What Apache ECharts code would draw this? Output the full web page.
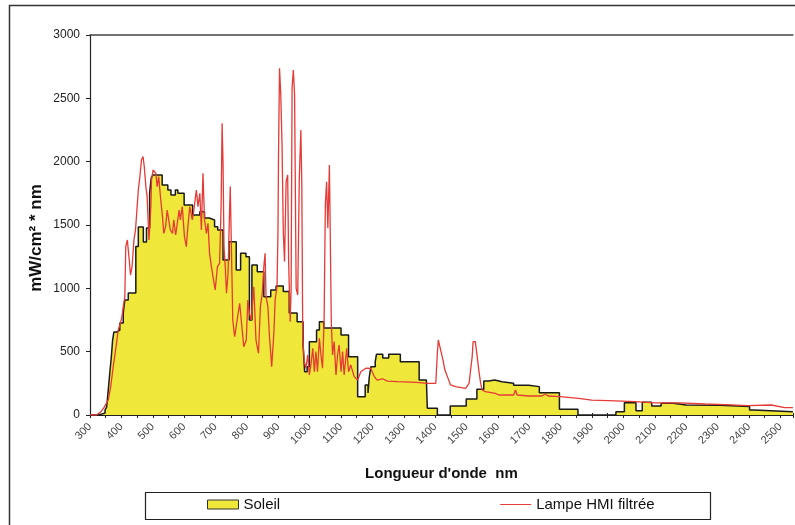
<!DOCTYPE html>
<html>
<head>
<meta charset="utf-8">
<script src="https://cdn.jsdelivr.net/npm/echarts@6/dist/echarts.min.js"></script>
<style>
  html, body { margin: 0; padding: 0; background: #fff; }
  #chart { width: 795px; height: 525px; }
</style>
</head>
<body>
<div id="chart"></div>
<script>
// Solar spectrum (binned, drawn as steps): band start wavelength (nm) and level (mW/cm² * nm)
const soleilNm = [300, 320, 335, 348, 353, 356, 359, 363, 368, 372, 376, 385, 395, 406, 411, 422, 446, 454, 470, 480,
  490, 495, 500, 530, 548, 558, 572, 580, 600, 627, 650, 665, 680, 697, 707, 724, 743, 766, 780, 797,
  808, 816, 833, 854, 876, 893, 916, 935, 960, 979, 984, 992, 999, 1022, 1031, 1045, 1100, 1124, 1153, 1177,
  1186, 1190, 1195, 1209, 1213, 1233, 1252, 1289, 1349, 1372, 1375, 1407, 1448, 1499, 1533, 1555, 1570, 1590, 1613, 1650,
  1698, 1732, 1796, 1855, 1976, 2003, 2040, 2060, 2090, 2120, 2159, 2200, 2307, 2402, 2416, 2540];
const soleilVal = [0, 5, 16, 40, 63, 140, 220, 330, 460, 590, 655, 670, 726, 805, 908, 963, 1330, 1485, 1366, 1476,
  1752, 1870, 1895, 1816, 1776, 1737, 1776, 1750, 1658, 1579, 1605, 1555, 1540, 1487, 1460, 1224, 1368, 1145, 1276, 1250,
  750, 1184, 1131, 934, 987, 1018, 975, 805, 737, 553, 342, 381, 579, 671, 737, 687, 632, 460, 145, 237,
  174, 300, 381, 421, 480, 450, 480, 421, 276, 263, 53, 0, 71, 126, 203, 268, 276, 263, 250, 234,
  224, 176, 45, 0, 26, 97, 34, 100, 71, 92, 79, 76, 68, 39, 26, 26];

// Filtered HMI lamp spectrum
const lampNm = [300, 321, 335, 345, 358, 366, 374, 383, 390, 401, 406, 411, 414, 419, 425, 429, 434, 440, 445, 454,
  459, 464, 469, 473, 478, 482, 488, 494, 496, 501, 510, 514, 519, 525, 531, 535, 541, 546, 552, 556,
  563, 567, 573, 577, 584, 588, 594, 601, 607, 612, 618, 626, 630, 639, 644, 650, 655, 660, 665, 671,
  676, 681, 687, 692, 699, 706, 713, 718, 721, 724, 727, 731, 735, 740, 744, 747, 750, 755, 761, 769,
  777, 782, 790, 798, 803, 808, 814, 822, 829, 837, 843, 849, 854, 858, 861, 867, 872, 879, 886, 890,
  896, 899, 901, 904, 908, 912, 916, 920, 925, 930, 933, 938, 941, 944, 948, 952, 957, 962, 967, 972,
  975, 978, 983, 988, 994, 999, 1004, 1010, 1015, 1020, 1025, 1031, 1036, 1041, 1046, 1050, 1054, 1058, 1063, 1066,
  1069, 1073, 1078, 1084, 1089, 1094, 1100, 1105, 1110, 1118, 1124, 1131, 1142, 1153, 1163, 1179, 1195, 1206, 1215, 1232,
  1248, 1280, 1340, 1375, 1402, 1407, 1410, 1415, 1420, 1425, 1431, 1439, 1449, 1465, 1497, 1508, 1513, 1518, 1521, 1528,
  1534, 1539, 1545, 1550, 1560, 1592, 1603, 1650, 1656, 1661, 1698, 1740, 1751, 1760, 1799, 1857, 1899, 1952, 2037, 2101,
  2180, 2260, 2323, 2397, 2471, 2514, 2540];
const lampVal = [0, 0, 26, 60, 118, 224, 382, 540, 671, 763, 855, 934, 1329, 1382, 1224, 1105, 1171, 1382, 1461, 1776,
  1882, 2013, 2040, 1960, 1803, 1724, 1382, 1645, 1855, 1934, 1908, 1803, 1882, 1711, 1566, 1434, 1487, 1618, 1618, 1461,
  1434, 1540, 1421, 1408, 1618, 1540, 1645, 1408, 1329, 1487, 1645, 1540, 1600, 1776, 1645, 1750, 1461, 1908, 1540, 1434,
  1513, 1276, 1171, 1092, 987, 1171, 1197, 1671, 2303, 1987, 1329, 1171, 961, 1118, 1540, 1803, 1408, 750, 618, 750,
  882, 750, 539, 592, 908, 803, 750, 1013, 592, 487, 855, 961, 1171, 1276, 934, 855, 618, 382, 645, 908,
  1013, 1434, 2105, 2737, 2526, 2132, 1447, 1211, 1842, 1895, 1211, 737, 1000, 2579, 2724, 2526, 1000, 947, 1868, 2250,
  1816, 605, 421, 369, 474, 316, 395, 526, 342, 500, 342, 605, 474, 369, 737, 1658, 1842, 1474, 1974, 1974,
  737, 474, 579, 316, 474, 553, 342, 500, 316, 526, 342, 395, 303, 276, 342, 369, 368, 303, 276, 286,
  268, 263, 258, 250, 250, 487, 592, 592, 487, 434, 355, 303, 237, 224, 211, 250, 355, 461, 579, 579,
  461, 355, 250, 197, 184, 171, 158, 158, 197, 158, 150, 150, 166, 150, 145, 132, 118, 113, 105, 95,
  95, 87, 82, 74, 79, 58, 58];

const yTicks = [0, 500, 1000, 1500, 2000, 2500, 3000];

const soleilData = soleilNm.map((x, i) => [x, soleilVal[i]]);
const lampData = lampNm.map((x, i) => [x, lampVal[i]]);

const FONT = '"Liberation Sans", Arial, sans-serif';
const chart = echarts.init(document.getElementById('chart'), null, { renderer: 'canvas' });

chart.setOption({
  animation: false,
  backgroundColor: '#ffffff',
  textStyle: { fontFamily: FONT },
  graphic: [
    // outer chart frame
    { type: 'rect', silent: true, z: -1,
      shape: { x: 9.5, y: 5.5, width: 820, height: 540 },
      style: { fill: 'none', stroke: '#333', lineWidth: 1.5 } },
    // legend box
    { type: 'rect', silent: true,
      shape: { x: 145.5, y: 492.5, width: 565, height: 27 },
      style: { fill: '#fff', stroke: '#222', lineWidth: 1.2 } },
    // vertical axis title
    { type: 'text', silent: true, x: 36, y: 238, rotation: Math.PI / 2,
      style: { text: 'mW/cm² * nm', font: 'bold 17px "Liberation Sans", Arial, sans-serif',
               fill: '#111', align: 'center', verticalAlign: 'middle' } }
  ],
  grid: { left: 90, right: 0, top: 35, bottom: 110, show: false },
  legend: {
    left: 207, top: 497, z: 10, padding: 0,
    itemWidth: 31, itemHeight: 9, itemGap: 220, symbolKeepAspect: true,
    textStyle: { fontFamily: FONT, fontSize: 15, color: '#111' },
    data: [
      { name: 'Soleil', icon: 'rect', itemStyle: { color: '#efe83a', borderColor: '#333', borderWidth: 1 } },
      { name: 'Lampe HMI filtrée', icon: 'path://M0,0 L32,0 L32,1 L0,1 Z', itemStyle: { color: '#e53a36' } }
    ]
  },
  xAxis: [
    {
      type: 'value', min: 300, max: 2540, interval: 50,
      name: "Longueur d'onde  nm", nameLocation: 'middle', nameGap: 51,
      nameTextStyle: { fontFamily: FONT, fontSize: 15, fontWeight: 'bold', color: '#111' },
      splitLine: { show: false },
      axisLine: { lineStyle: { color: '#222', width: 1.2 } },
      axisTick: { length: 3, lineStyle: { color: '#222' } },
      axisLabel: {
        rotate: 45, margin: 10, fontSize: 11, color: '#444', fontFamily: FONT,
        formatter: v => (v % 100 === 0 && v <= 2500) ? String(v) : ''
      }
    },
    {
      // plot-area top border
      type: 'value', position: 'top', min: 300, max: 2540,
      axisLine: { show: true, lineStyle: { color: '#444', width: 1.5 } },
      axisTick: { show: false }, axisLabel: { show: false }, splitLine: { show: false }
    },
    {
      // inner half of the crossing tick marks
      type: 'value', position: 'bottom', min: 300, max: 2540, interval: 50,
      axisLine: { show: false },
      axisTick: { show: true, inside: true, length: 2, lineStyle: { color: '#222' } },
      axisLabel: { show: false }, splitLine: { show: false }
    }
  ],
  yAxis: {
    type: 'value', min: 0, max: 3000, interval: 500,
    splitLine: { show: false },
    axisLine: { show: true, lineStyle: { color: '#222', width: 1.2 } },
    axisTick: { show: true, length: 4, lineStyle: { color: '#222' } },
    axisLabel: {
      margin: 10, fontSize: 12, color: '#222', fontFamily: FONT,
      formatter: v => yTicks.includes(v) ? String(v) : ''
    }
  },
  series: [
    {
      name: 'Soleil', type: 'line', step: 'end', data: soleilData,
      symbol: 'none', z: 2,
      lineStyle: { color: '#1a1a1a', width: 1.5 },
      itemStyle: { color: '#efe83a' },
      areaStyle: { color: '#efe83a', opacity: 1 }
    },
    {
      name: 'Lampe HMI filtrée', type: 'line', data: lampData,
      symbol: 'none', z: 3,
      lineStyle: { color: '#e53a36', width: 1.3 },
      itemStyle: { color: '#e53a36' }
    }
  ]
});
</script>
</body>
</html>
